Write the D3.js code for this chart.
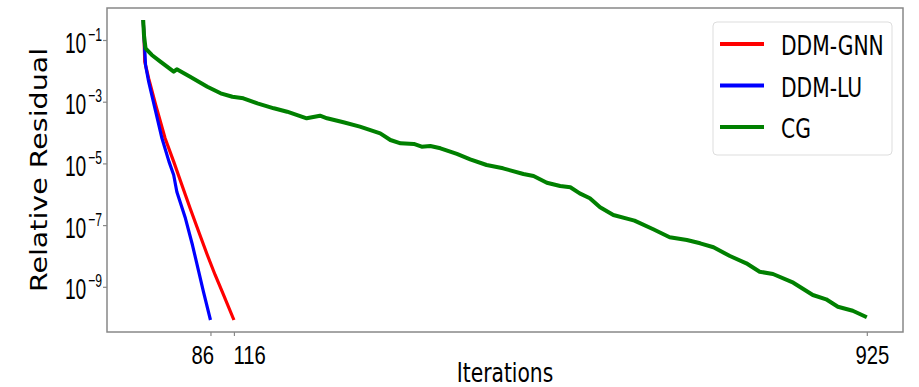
<!DOCTYPE html>
<html>
<head>
<meta charset="utf-8">
<script src="https://cdn.jsdelivr.net/npm/d3@7"></script>
<style>
  body { margin: 0; background: #fff; }
  svg { display: block; font-family: "DejaVu Sans", sans-serif; }
</style>
</head>
<body>
<div id="chart"></div>
<script>
// iterations and relative residual
var cgIter = [0, 1, 3, 11, 22, 39, 43, 60, 82, 99, 114, 128, 146, 167, 184, 209, 226, 235, 256, 277,
  303, 316, 329, 346, 356, 367, 380, 401, 418, 439, 460, 486, 499, 516, 533, 546, 558, 571, 584, 601,
  622, 628, 652, 673, 695, 712, 729, 750, 771, 788, 805, 831, 856, 873, 888, 907, 925];
var cgRes = [0.445, 0.145, 0.0538, 0.0327, 0.0198, 0.00938, 0.0112, 0.00646, 0.00306, 0.00187,
  0.00145, 0.00129, 8.87e-4, 6.11e-4, 4.74e-4, 2.90e-4, 3.52e-4, 2.90e-4, 2.15e-4, 1.55e-4,
  9.46e-5, 5.74e-5, 4.49e-5, 4.26e-5, 3.48e-5, 3.66e-5, 3.09e-5, 2.02e-5, 1.36e-5, 8.87e-6,
  6.93e-6, 4.53e-6, 3.91e-6, 2.37e-6, 1.85e-6, 1.68e-6, 1.07e-6, 7.40e-7, 3.78e-7, 2.12e-7,
  1.54e-7, 1.39e-7, 7.31e-8, 4.03e-8, 3.29e-8, 2.57e-8, 1.91e-8, 9.95e-9, 5.78e-9, 3.08e-9,
  2.60e-9, 1.36e-9, 5.42e-10, 3.94e-10, 2.26e-10, 1.68e-10, 1.03e-10];

var gnnIter = [0, 1, 2, 7, 16, 28, 39, 45, 54, 60, 71, 82, 92, 101, 116];
var gnnRes = [0.445, 0.145, 0.0198, 5.74e-3, 7.82e-4, 6.52e-5, 1.14e-5, 4.21e-6, 9.46e-7, 3.51e-7,
  6.11e-8, 1.07e-8, 2.42e-9, 6.93e-10, 8.4e-11];

var luIter = [0, 1, 3, 7, 16, 24, 33, 39, 43, 54, 63, 71, 77, 86];
var luRes = [0.445, 0.145, 0.0155, 4.45e-3, 4.74e-4, 6.52e-5, 1.14e-5, 4.21e-6, 1.21e-6, 1.66e-7,
  2.26e-8, 3.08e-9, 6.93e-10, 8.4e-11];

var seriesNames = ['DDM-GNN', 'DDM-LU', 'CG'];
var seriesColors = ['#ff0000', '#0000ff', '#008000'];

var xTicks = [86, 116, 925];
var yTickExp = [-1, -3, -5, -7, -9];

var width = 919, height = 387;
var mLeft = 107, mRight = 903, mTop = 8, mBottom = 332;
var squeeze = 0.78;

var svg = d3.select('#chart').append('svg')
  .attr('width', width)
  .attr('height', height);

var x = d3.scaleLinear()
  .domain([-46.25, 971.25])
  .range([mLeft, mRight]);

var y = d3.scaleLog()
  .domain([Math.pow(10, -10.465), Math.pow(10, 0.0373)])
  .range([mBottom, mTop]);

var line = d3.line()
  .x(function(d) { return x(d[0]); })
  .y(function(d) { return y(d[1]); });

var series = [
  { name: seriesNames[0], color: seriesColors[0], data: d3.zip(gnnIter, gnnRes), w: 3.2 },
  { name: seriesNames[1], color: seriesColors[1], data: d3.zip(luIter, luRes), w: 3.2 },
  { name: seriesNames[2], color: seriesColors[2], data: d3.zip(cgIter, cgRes), w: 4 }
];

svg.selectAll('path.series')
  .data(series)
  .enter().append('path')
  .attr('class', 'series')
  .attr('d', function(d) { return line(d.data); })
  .style('fill', 'none')
  .style('stroke', function(d) { return d.color; })
  .style('stroke-width', function(d) { return d.w; })
  .style('stroke-linejoin', 'round');

// frame
svg.append('rect')
  .attr('x', mLeft)
  .attr('y', mTop)
  .attr('width', mRight - mLeft)
  .attr('height', mBottom - mTop)
  .style('fill', 'none')
  .style('stroke', '#888')
  .style('stroke-width', 1.5);

// the 86 / 116 labels sit pushed apart in the original
var xLabelAnchor = ['end', 'start', 'middle'];
var xLabelShift = [3, -1, 5];

var xAxis = svg.append('g')
  .attr('transform', 'translate(0,' + mBottom + ')')
  .call(d3.axisBottom(x).tickValues(xTicks).tickSize(4).tickSizeOuter(0).tickFormat(d3.format('d')));
xAxis.select('.domain').remove();
xAxis.selectAll('line').style('stroke', '#888').style('stroke-width', 1.2);
xAxis.selectAll('text')
  .attr('y', 32)
  .attr('dy', null)
  .attr('x', 0)
  .attr('text-anchor', function(d, i) { return xLabelAnchor[i]; })
  .attr('transform', function(d, i) { return 'translate(' + xLabelShift[i] + ',0) scale(' + squeeze + ',1)'; })
  .style('font-size', '26px')
  .style('fill', '#000');

var yAxis = svg.append('g')
  .attr('transform', 'translate(' + mLeft + ',0)')
  .call(d3.axisLeft(y).tickValues(yTickExp.map(function(e) { return Math.pow(10, e); })).tickSize(4).tickSizeOuter(0));
yAxis.select('.domain').remove();
yAxis.selectAll('line').style('stroke', '#888').style('stroke-width', 1.2);
yAxis.selectAll('text').each(function(d, i) {
  var t = d3.select(this);
  t.text(null)
    .attr('x', 0)
    .attr('y', 12)
    .attr('dy', null)
    .attr('transform', 'translate(-5,0) scale(0.64,1)')
    .style('font-size', '30px')
    .style('fill', '#000');
  t.append('tspan').text('10');
  t.append('tspan')
    .attr('dy', -12)
    .attr('dx', 3)
    .style('font-size', '19px')
    .text('\u2212' + Math.abs(yTickExp[i]));
});

// axis titles
svg.append('text')
  .attr('transform', 'translate(' + ((mLeft + mRight) / 2) + ',382) scale(' + squeeze + ',1)')
  .attr('text-anchor', 'middle')
  .style('font-size', '26px')
  .text('Iterations');

svg.append('text')
  .attr('transform', 'translate(47,170) rotate(-90) scale(1,' + squeeze + ')')
  .attr('text-anchor', 'middle')
  .style('font-size', '28.5px')
  .text('Relative Residual');

// legend
var legend = svg.append('g');
legend.append('rect')
  .attr('x', 713)
  .attr('y', 22)
  .attr('width', 179)
  .attr('height', 133)
  .attr('rx', 4)
  .style('fill', '#fff')
  .style('stroke', '#ddd')
  .style('stroke-width', 1);

var items = legend.selectAll('g.item')
  .data(series)
  .enter().append('g')
  .attr('class', 'item')
  .attr('transform', function(d, i) { return 'translate(0,' + (44 + i * 41.5) + ')'; });

items.append('line')
  .attr('x1', 720)
  .attr('x2', 764)
  .style('stroke', function(d) { return d.color; })
  .style('stroke-width', 4);

items.append('text')
  .attr('transform', 'translate(781,11) scale(' + squeeze + ',1)')
  .style('font-size', '26px')
  .text(function(d) { return d.name; });
</script>
</body>
</html>
